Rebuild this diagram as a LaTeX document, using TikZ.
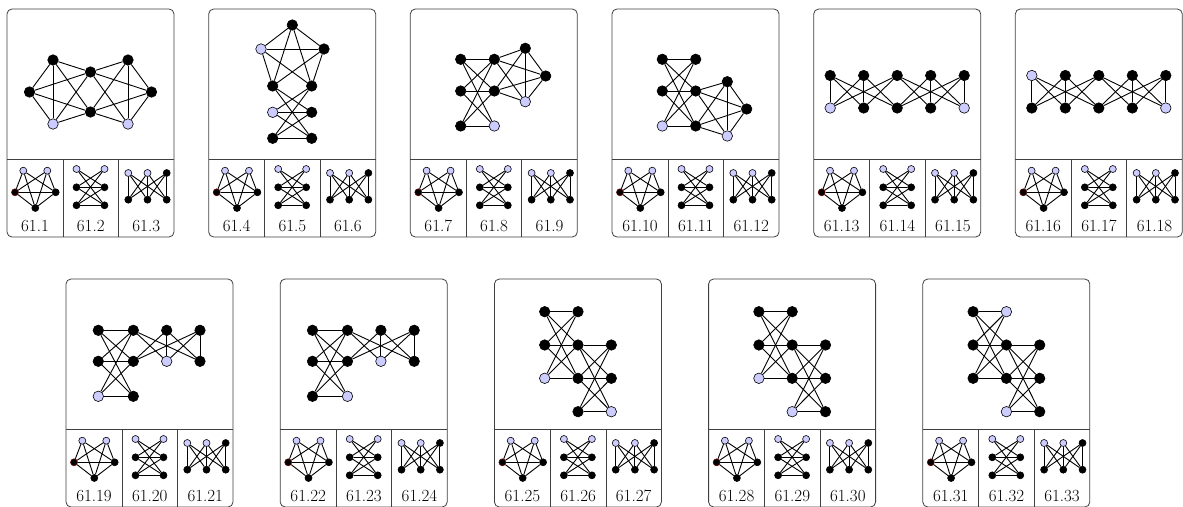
\documentclass[tikz,border=0pt]{standalone}
\definecolor{lav}{RGB}{204,204,255}
\tikzset{
 edge/.style={line width=0.9pt},
 vb/.style={circle,fill=black,draw=black,inner sep=0pt,minimum size=10.5pt,line width=0.6pt},
 vl/.style={vb,fill=lav},
 sb/.style={vb,minimum size=7pt},
 sl/.style={sb,fill=lav},
 cardbox/.style={line width=0.8pt,draw=black!75},
 lbl/.style={font=\fontsize{17}{20}\selectfont,inner sep=0pt}
}
\newcommand{\mkcard}[6]{%
\begin{scope}[shift={(#2,#3)}]
\draw[cardbox,rounded corners=5pt] (0,0) rectangle (167,228);
\draw[cardbox] (0,150) -- (167,150) (56,150) -- (56,228) (111.5,150) -- (111.5,228);
\node[sl] (#1pa) at (16.3,161.7) {};
\node[sl] (#1pb) at (40.3,161.7) {};
\node[sb,draw=red!40!black] (#1pc) at (8,183.3) {};
\node[sb] (#1pd) at (48.7,183.3) {};
\node[sb] (#1pe) at (28.3,199) {};
\node[sl] (#1qa) at (69.5,160) {};
\node[sl] (#1qb) at (97.5,160) {};
\node[sb] (#1qc) at (69.5,178.3) {};
\node[sb] (#1qd) at (97.5,178.3) {};
\node[sb] (#1qe) at (69.5,196.3) {};
\node[sb] (#1qf) at (97.5,196.3) {};
\node[sl] (#1ra) at (121.3,164) {};
\node[sl] (#1rb) at (140.5,164) {};
\node[sb] (#1rc) at (159.7,164) {};
\node[sb] (#1rd) at (121.3,190.7) {};
\node[sb] (#1re) at (140.5,190.7) {};
\node[sb] (#1rf) at (159.7,190.7) {};
\node[lbl] (#1la) at (28,217.3) {#4};
\node[lbl] (#1lb) at (83.75,217.3) {#5};
\node[lbl] (#1lc) at (139.25,217.3) {#6};
\end{scope}
\foreach \u/\v in {a/c,a/e,a/d,b/d,b/e,b/c,c/d,c/e,d/e} \draw[edge] (#1p\u) -- (#1p\v);
\foreach \u/\v in {a/d,a/f,b/c,b/e,c/d,c/f,d/e,e/f} \draw[edge] (#1q\u) -- (#1q\v);
\foreach \u/\v in {a/d,a/e,a/f,b/d,b/e,b/f,c/d,c/e,c/f} \draw[edge] (#1r\u) -- (#1r\v);
}
% bipartite-row graph (cards 5,6)
\newcommand{\rowgraph}[1]{%
\foreach \u/\v in {1/1,1/2,1/3,2/1,2/2,2/3,3/1,3/2,3/4,3/5,4/3,4/4,4/5,5/3,5/4,5/5} \draw[edge] (#1t\u) -- (#1b\v);
}
\begin{document}
\begin{tikzpicture}[x=1pt,y=-1pt]
\useasboundingbox (0,0) rectangle (1183,506);
\fill[white] (0,0) rectangle (1183,506);

\mkcard{c1}{7}{9}{61.1}{61.2}{61.3}
\mkcard{c2}{208.7}{9}{61.4}{61.5}{61.6}
\mkcard{c3}{410.3}{9}{61.7}{61.8}{61.9}
\mkcard{c4}{612}{9}{61.10}{61.11}{61.12}
\mkcard{c5}{813.7}{9}{61.13}{61.14}{61.15}
\mkcard{c6}{1015.3}{9}{61.16}{61.17}{61.18}
\mkcard{c7}{66}{279}{61.19}{61.20}{61.21}
\mkcard{c8}{280.2}{279}{61.22}{61.23}{61.24}
\mkcard{c9}{494.4}{279}{61.25}{61.26}{61.27}
\mkcard{c10}{708.6}{279}{61.28}{61.29}{61.30}
\mkcard{c11}{922.8}{279}{61.31}{61.32}{61.33}

% card 1
\begin{scope}[shift={(7,9)}]
\node[vb] (c1A) at (46,51) {};
\node[vb] (c1B) at (83.5,63) {};
\node[vb] (c1C) at (121,51) {};
\node[vb] (c1D) at (22.5,83) {};
\node[vb] (c1E) at (144.5,83) {};
\node[vl] (c1F) at (46,115) {};
\node[vb] (c1G) at (83.5,103) {};
\node[vl] (c1H) at (121,115) {};
\end{scope}
\foreach \u/\v in {A/D,A/F,D/F,A/B,A/G,D/B,D/G,F/B,F/G,C/E,C/H,E/H,C/B,C/G,E/B,E/G,H/B,H/G}
 \draw[edge] (c1\u) -- (c1\v);

% card 2
\begin{scope}[shift={(208.7,9)}]
\node[vb] (c2T) at (83.6,16) {};
\node[vl] (c2L) at (52.3,40) {};
\node[vb] (c2R) at (115.3,40) {};
\node[vb] (c2P) at (64,77) {};
\node[vb] (c2Q) at (103,77) {};
\node[vl] (c2U) at (64,103.3) {};
\node[vb] (c2V) at (103,103.3) {};
\node[vb] (c2W) at (64,129.3) {};
\node[vb] (c2X) at (103,129.3) {};
\end{scope}
\foreach \u/\v in {T/L,T/R,T/P,T/Q,L/R,L/P,L/Q,R/P,R/Q,P/V,P/X,Q/U,Q/W,U/V,U/X,V/W,W/X}
 \draw[edge] (c2\u) -- (c2\v);

% card 3
\begin{scope}[shift={(410.3,9)}]
\node[vb] (c3a) at (50.4,50.3) {};
\node[vb] (c3b) at (84,50.3) {};
\node[vb] (c3c) at (115,39.3) {};
\node[vb] (c3d) at (135.4,67) {};
\node[vb] (c3e) at (50.4,82) {};
\node[vb] (c3f) at (84,82) {};
\node[vl] (c3g) at (115,92.7) {};
\node[vb] (c3h) at (50.4,117) {};
\node[vl] (c3i) at (84,117) {};
\end{scope}
\foreach \u/\v in {a/b,a/f,a/i,b/e,b/h,e/f,e/i,f/h,h/i,b/c,b/d,b/g,f/c,f/d,f/g,c/d,c/g,d/g}
 \draw[edge] (c3\u) -- (c3\v);

% card 4
\begin{scope}[shift={(612,9)}]
\node[vb] (c4a) at (50.3,50.3) {};
\node[vb] (c4b) at (83.7,50.3) {};
\node[vb] (c4c) at (50.3,82) {};
\node[vb] (c4d) at (83.7,82) {};
\node[vb] (c4e) at (115.3,72.7) {};
\node[vb] (c4f) at (134.7,100) {};
\node[vl] (c4g) at (50.3,117) {};
\node[vb] (c4h) at (83.7,117) {};
\node[vl] (c4i) at (115.3,127) {};
\end{scope}
\foreach \u/\v in {a/b,a/d,a/h,b/c,b/g,c/d,c/h,d/g,g/h,d/e,d/f,d/i,h/e,h/f,h/i,e/f,e/i,f/i}
 \draw[edge] (c4\u) -- (c4\v);

% card 5
\begin{scope}[shift={(813.7,9)}]
\node[vb] (c5t1) at (16.5,66.5) {};
\node[vb] (c5t2) at (50,66.5) {};
\node[vb] (c5t3) at (83.5,66.5) {};
\node[vb] (c5t4) at (117,66.5) {};
\node[vb] (c5t5) at (150.5,66.5) {};
\node[vl] (c5b1) at (16.5,99) {};
\node[vb] (c5b2) at (50,99) {};
\node[vb] (c5b3) at (83.5,99) {};
\node[vb] (c5b4) at (117,99) {};
\node[vl] (c5b5) at (150.5,99) {};
\end{scope}
\rowgraph{c5}

% card 6
\begin{scope}[shift={(1015.3,9)}]
\node[vl] (c6t1) at (16.5,66.5) {};
\node[vb] (c6t2) at (50,66.5) {};
\node[vb] (c6t3) at (83.5,66.5) {};
\node[vb] (c6t4) at (117,66.5) {};
\node[vb] (c6t5) at (150.5,66.5) {};
\node[vb] (c6b1) at (16.5,99) {};
\node[vb] (c6b2) at (50,99) {};
\node[vb] (c6b3) at (83.5,99) {};
\node[vb] (c6b4) at (117,99) {};
\node[vl] (c6b5) at (150.5,99) {};
\end{scope}
\rowgraph{c6}

% card 7
\begin{scope}[shift={(66,279)}]
\node[vb] (c7a) at (32.3,51.3) {};
\node[vb] (c7b) at (67.3,51.3) {};
\node[vb] (c7c) at (100.7,51.3) {};
\node[vb] (c7d) at (134,51.3) {};
\node[vb] (c7e) at (32.3,82.3) {};
\node[vb] (c7f) at (67.3,82.3) {};
\node[vl] (c7g) at (100.7,82.3) {};
\node[vb] (c7h) at (134,82.3) {};
\node[vl] (c7i) at (32.3,117.3) {};
\node[vb] (c7j) at (67.3,117.3) {};
\end{scope}
\foreach \u/\v in {a/b,a/f,a/j,b/e,b/i,e/f,e/j,f/i,i/j,b/g,b/h,f/c,f/d,c/g,c/h,d/g,d/h}
 \draw[edge] (c7\u) -- (c7\v);

% card 8
\begin{scope}[shift={(280.2,279)}]
\node[vb] (c8a) at (32.3,51.3) {};
\node[vb] (c8b) at (67.3,51.3) {};
\node[vb] (c8c) at (100.7,51.3) {};
\node[vb] (c8d) at (134,51.3) {};
\node[vb] (c8e) at (32.3,82.3) {};
\node[vb] (c8f) at (67.3,82.3) {};
\node[vl] (c8g) at (100.7,82.3) {};
\node[vb] (c8h) at (134,82.3) {};
\node[vb] (c8i) at (32.3,117.3) {};
\node[vl] (c8j) at (67.3,117.3) {};
\end{scope}
\foreach \u/\v in {a/b,a/f,a/j,b/e,b/i,e/f,e/j,f/i,i/j,b/g,b/h,f/c,f/d,c/g,c/h,d/g,d/h}
 \draw[edge] (c8\u) -- (c8\v);

% card 9
\begin{scope}[shift={(494.4,279)}]
\node[vb] (c9a) at (50.3,32.7) {};
\node[vb] (c9b) at (83.6,32.7) {};
\node[vb] (c9c) at (50.3,66) {};
\node[vb] (c9d) at (83.6,66) {};
\node[vb] (c9e) at (116.9,66) {};
\node[vl] (c9f) at (50.3,99.3) {};
\node[vb] (c9g) at (83.6,99.3) {};
\node[vb] (c9h) at (116.9,99.3) {};
\node[vb] (c9i) at (83.6,132.7) {};
\node[vl] (c9j) at (116.9,132.7) {};
\end{scope}
\foreach \u/\v in {a/b,a/d,a/g,b/c,b/f,c/d,c/g,d/f,f/g,d/e,d/h,d/j,e/g,e/i,g/h,g/j,h/i,i/j}
 \draw[edge] (c9\u) -- (c9\v);

% card 10
\begin{scope}[shift={(708.6,279)}]
\node[vb] (c10a) at (50.3,32.7) {};
\node[vb] (c10b) at (83.6,32.7) {};
\node[vb] (c10c) at (50.3,66) {};
\node[vb] (c10d) at (83.6,66) {};
\node[vb] (c10e) at (116.9,66) {};
\node[vl] (c10f) at (50.3,99.3) {};
\node[vb] (c10g) at (83.6,99.3) {};
\node[vb] (c10h) at (116.9,99.3) {};
\node[vl] (c10i) at (83.6,132.7) {};
\node[vb] (c10j) at (116.9,132.7) {};
\end{scope}
\foreach \u/\v in {a/b,a/d,a/g,b/c,b/f,c/d,c/g,d/f,f/g,d/e,d/h,d/j,e/g,e/i,g/h,g/j,h/i,i/j}
 \draw[edge] (c10\u) -- (c10\v);

% card 11
\begin{scope}[shift={(922.8,279)}]
\node[vb] (c11a) at (50.3,32.7) {};
\node[vl] (c11b) at (83.6,32.7) {};
\node[vb] (c11c) at (50.3,66) {};
\node[vb] (c11d) at (83.6,66) {};
\node[vb] (c11e) at (116.9,66) {};
\node[vb] (c11f) at (50.3,99.3) {};
\node[vb] (c11g) at (83.6,99.3) {};
\node[vb] (c11h) at (116.9,99.3) {};
\node[vl] (c11i) at (83.6,132.7) {};
\node[vb] (c11j) at (116.9,132.7) {};
\end{scope}
\foreach \u/\v in {a/b,a/d,a/g,b/c,b/f,c/d,c/g,d/f,f/g,d/e,d/h,d/j,e/g,e/i,g/h,g/j,h/i,i/j}
 \draw[edge] (c11\u) -- (c11\v);
\end{tikzpicture}
\end{document}
